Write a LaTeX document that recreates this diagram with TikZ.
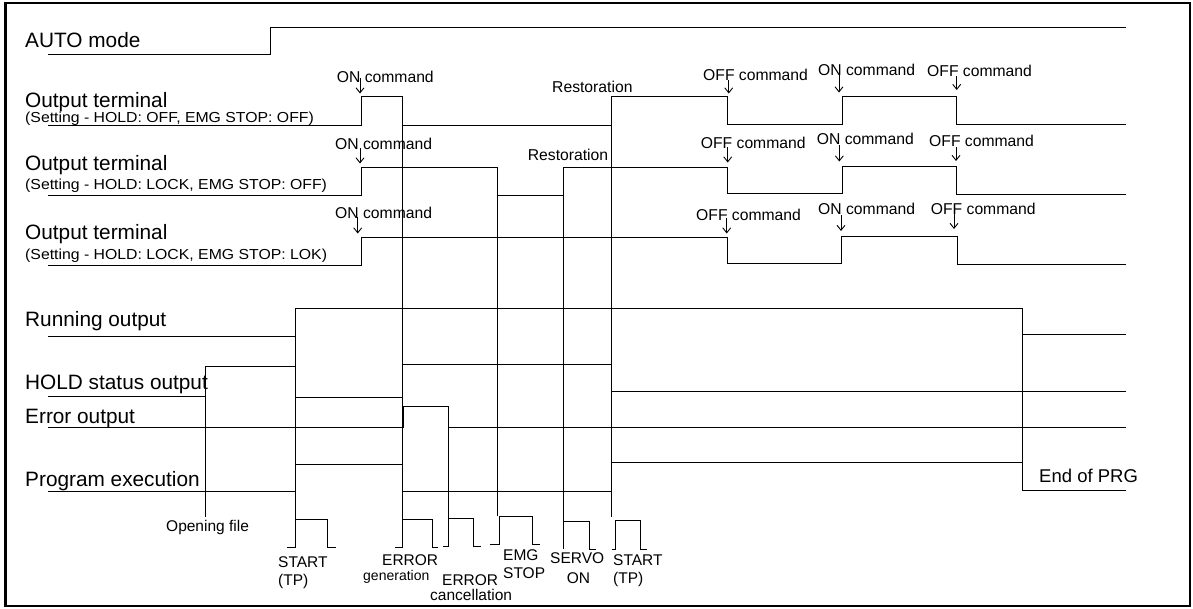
\documentclass[tikz,border=0pt]{standalone}
\usepackage{fontspec}
\usepackage{graphicx}
\setmainfont{Liberation Sans}
\usetikzlibrary{arrows.meta}
\tikzset{
  sig/.style={line width=0.95pt, line join=miter},
  markline/.style={line width=0.95pt},
  big/.style={anchor=base west, inner sep=0pt, font=\fontsize{20.8}{24}\selectfont},
  subtxt/.style={anchor=base west, inner sep=0pt, font=\fontsize{14.5}{16}\selectfont},
  cmd/.style={anchor=base west, inner sep=0pt, font=\fontsize{15.7}{18}\selectfont},
  lab/.style={anchor=base west, inner sep=0pt, font=\fontsize{15.5}{18}\selectfont},
  cmdarrow/.style={line width=0.9pt, -{Straight Barb[length=5pt,width=8pt]}},
}
\begin{document}
\begin{tikzpicture}[x=1pt,y=-1pt]
\useasboundingbox (0,0) rectangle (1193,608);
\draw[line width=2.5pt] (5.5,3) rectangle (1190,606);

% ---- labels ----
\node[big] (lauto) at (25,47.7) {AUTO mode};
\node[big] (lt1) at (25,107.3) {Output terminal};
\node[subtxt] (st1) at (25,122) {\scalebox{1.09}[1]{(Setting - HOLD: OFF, EMG STOP: OFF)}};
\node[big] (lt2) at (25,170) {Output terminal};
\node[subtxt] (st2) at (25,189.5) {\scalebox{1.09}[1]{(Setting - HOLD: LOCK, EMG STOP: OFF)}};
\node[big] (lt3) at (25,239.5) {Output terminal};
\node[subtxt] (st3) at (25,259) {\scalebox{1.09}[1]{(Setting - HOLD: LOCK, EMG STOP: LOK)}};
\node[big] (lrun) at (25,326.7) {Running output};
\node[big] (lhold) at (25,389.3) {HOLD status output};
\node[big] (lerr) at (25,423.3) {Error output};
\node[big] (lprg) at (25,486) {Program execution};
\node[anchor=base west, inner sep=0pt, font=\fontsize{18.5}{22}\selectfont] (lend) at (1039,482) {End of PRG};

% ---- command labels ----
\node[cmd] (c11) at (336.7,82) {ON command};
\node[cmd] (c1r) at (552,92) {Restoration};
\node[cmd] (c12) at (703,80) {OFF command};
\node[cmd] (c13) at (818,75) {ON command};
\node[cmd] (c14) at (927,76) {OFF command};
\node[cmd] (c21) at (335,149) {ON command};
\node[cmd] (c2r) at (527.7,160) {Restoration};
\node[cmd] (c22) at (700.7,148) {OFF command};
\node[cmd] (c23) at (816.7,144.5) {ON command};
\node[cmd] (c24) at (929,146) {OFF command};
\node[cmd] (c31) at (335,218) {ON command};
\node[cmd] (c32) at (696,220) {OFF command};
\node[cmd] (c33) at (818,214.5) {ON command};
\node[cmd] (c34) at (930.7,214) {OFF command};

% ---- command arrows ----
\draw[cmdarrow] (360,78) -- (360,93.5);
\draw[cmdarrow] (728.7,80) -- (728.7,93.5);
\draw[cmdarrow] (839,75) -- (839,92.5);
\draw[cmdarrow] (956.7,76) -- (956.7,90);
\draw[cmdarrow] (360,148) -- (360,163.5);
\draw[cmdarrow] (727.7,147) -- (727.7,162.5);
\draw[cmdarrow] (839.3,145) -- (839.3,161.5);
\draw[cmdarrow] (956,147) -- (956,161);
\draw[cmdarrow] (357.7,217) -- (357.7,233.5);
\draw[cmdarrow] (726.7,218) -- (726.7,233.5);
\draw[cmdarrow] (841,215) -- (841,231);
\draw[cmdarrow] (954,213) -- (954,229);

% ---- waveforms ----
\draw[sig] (48,54) -- (270,54) -- (270,27) -- (1126,27);
\draw[sig] (48,125) -- (361,125) -- (361,96.7) -- (402,96.7) -- (402,125) -- (611,125) -- (611,96.7) -- (727.7,96.7) -- (727.7,124) -- (842,124) -- (842,96.7) -- (956.7,96.7) -- (956.7,124) -- (1126,124);
\draw[sig] (48,195.7) -- (361,195.7) -- (361,167.5) -- (497.5,167.5) -- (497.5,195.7) -- (563,195.7) -- (563,167) -- (727.7,167) -- (727.7,193.7) -- (842,193.7) -- (842,166.7) -- (956.5,166.7) -- (956.5,194.5) -- (1126,194.5);
\draw[sig] (48,265) -- (361,265) -- (361,237) -- (727,237) -- (727,263.7) -- (841.5,263.7) -- (841.5,236) -- (957,236) -- (957,264.7) -- (1126,264.7);
\draw[sig] (48,336.7) -- (295,336.7) -- (295,308) -- (1022.5,308) -- (1022.5,334) -- (1126,334);
\draw[sig] (48,396.5) -- (205,396.5) -- (205,366) -- (295,366) -- (295,397) -- (402,397) -- (402,364) -- (611,364) -- (611,391.5) -- (1126,391.5);
\draw[sig] (48,427.3) -- (403.5,427.3) -- (403.5,406) -- (448.5,406) -- (448.5,427.3) -- (1126,427.3);
\draw[sig] (48,491.7) -- (295,491.7) -- (295,464.3) -- (402,464.3) -- (402,491.7) -- (611,491.7) -- (611,462.5) -- (1022.5,462.5) -- (1022.5,490.3) -- (1126,490.3);

% ---- timing marker lines ----
\draw[markline] (205,396.5) -- (205,517);
\draw[markline] (295,308) -- (295,547);
\draw[markline] (402,96.7) -- (402,547);
\draw[markline] (448.5,406) -- (448.5,546);
\draw[markline] (497.5,167.5) -- (497.5,516);
\draw[markline] (563,167) -- (563,549);
\draw[markline] (611,96.7) -- (611,517);
\draw[markline] (1022.5,308) -- (1022.5,490.3);

% ---- trigger pulses ----
\draw[sig] (287,547) -- (295,547) -- (295,519.3) -- (327.5,519.3) -- (327.5,547) -- (336,547);
\draw[sig] (395,547) -- (402.5,547) -- (402.5,519.3) -- (432,519.3) -- (432,547) -- (438,547);
\draw[sig] (443,546) -- (448.5,546) -- (448.5,518) -- (473,518) -- (473,546) -- (480.5,546);
\draw[sig] (490,544.5) -- (499,544.5) -- (499,516.7) -- (532,516.7) -- (532,544.5) -- (540,544.5);
\draw[sig] (563,549) -- (563,521.7) -- (589,521.7) -- (589,549) -- (596,549);
\draw[sig] (612,549) -- (615.5,549) -- (615.5,520) -- (640.5,520) -- (640.5,549) -- (647,549);

% ---- pulse labels ----
\node[lab] (lopen) at (166,531.7) {Opening file};
\node[lab] (ls1a) at (278,567) {START};
\node[lab] (ls1b) at (278,585) {(TP)};
\node[lab] (lega) at (382,565) {ERROR};
\node[anchor=base west, inner sep=0pt, font=\fontsize{14}{16}\selectfont] (legb) at (363,580.5) {generation};
\node[lab] (leca) at (442,585.5) {ERROR};
\node[lab] (lecb) at (430,600.5) {cancellation};
\node[lab] (lema) at (503,560) {EMG};
\node[lab] (lemb) at (503,578) {STOP};
\node[lab] (lsva) at (550,563) {SERVO};
\node[lab] (lsvb) at (566.7,583) {ON};
\node[lab] (ls2a) at (613,565) {START};
\node[lab] (ls2b) at (613,583) {(TP)};
\end{tikzpicture}
\end{document}
